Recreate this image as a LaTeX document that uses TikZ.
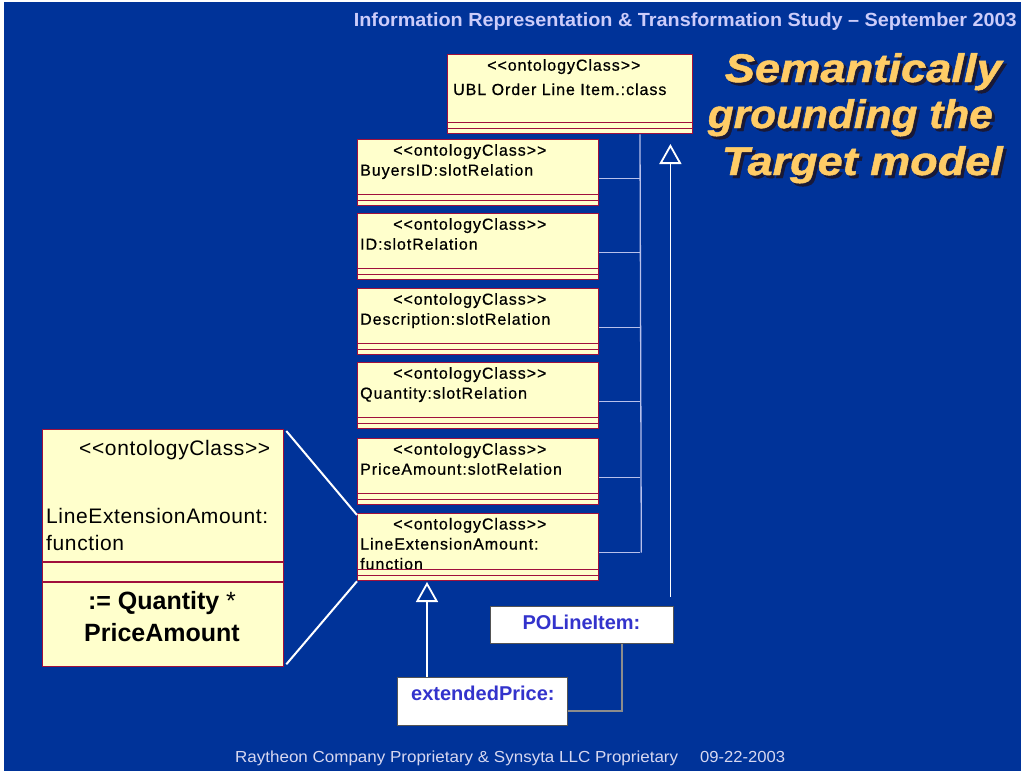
\documentclass[tikz,border=0pt]{standalone}
\usepackage{fontspec}
\setmainfont{Liberation Sans}
\newfontfamily\boxfont[LetterSpace=6,FakeBold=0.6]{Liberation Sans}
\newfontfamily\bigboxfont[LetterSpace=3]{Liberation Sans}
\newfontfamily\headfont[FakeStretch=1.1,FakeBold=1.2]{Liberation Sans}
\usetikzlibrary{calc,arrows.meta}

\definecolor{slidebg}{RGB}{0,51,153}
\definecolor{titlecol}{RGB}{204,204,250}
\definecolor{footcol}{RGB}{215,215,240}
\definecolor{headcol}{RGB}{255,204,102}
\definecolor{headshadow}{RGB}{25,25,55}
\definecolor{boxfill}{RGB}{255,255,204}
\definecolor{boxline}{RGB}{160,16,60}
\definecolor{linkcol}{RGB}{184,192,235}
\definecolor{instblue}{RGB}{51,51,204}
\definecolor{instline}{RGB}{140,140,140}

\newcommand\widthto[2]{\resizebox{#1}{\height}{#2}}

\begin{document}
\begin{tikzpicture}[x=1pt,y=-1pt,
  classbox/.style={draw=boxline, fill=boxfill, line width=1.3pt, anchor=north west,
    inner sep=0pt, minimum width=241pt, minimum height=66pt},
  compline/.style={draw=boxline, line width=1.1pt},
  boxtext/.style={anchor=base west, inner sep=0pt, text=black,
    font=\boxfont\fontsize{16}{19}\selectfont},
  bigtext/.style={anchor=base west, inner sep=0pt, text=black,
    font=\bigboxfont\fontsize{21}{25}\selectfont},
  boldtext/.style={anchor=base, inner sep=0pt, text=black,
    font=\bfseries\fontsize{25}{30}\selectfont},
  instbox/.style={draw=instline!60!black, fill=white, line width=1.4pt, anchor=north west, inner sep=0pt},
  insttext/.style={inner sep=0pt, text=instblue, font=\bfseries\fontsize{20}{24}\selectfont},
  linkline/.style={draw=linkcol, line width=1.3pt},
  zoomline/.style={draw=white, line width=2pt},
  genline/.style={draw=white, line width=1.8pt, -{Triangle[open, width=22pt, length=20pt]}},
  instlink/.style={draw=instline, line width=1.6pt},
  headtext/.style={anchor=base east, inner sep=0pt,
    font=\headfont\bfseries\itshape\fontsize{40}{47}\selectfont},
]
\useasboundingbox (0,0) rectangle (1021,771);

% slide background with its thin white edge
\fill[white] (0,0) rectangle (1021,771);
\fill[slidebg] (4,2) rectangle (1021,771);

% running title and footer
\node[anchor=base east, inner sep=0pt, text=titlecol] (runtitle) at (1017,26)
  {\widthto{663pt}{\bfseries\fontsize{19}{22}\selectfont Information Representation \& Transformation Study – September 2003}};
\node[anchor=base west, inner sep=0pt, text=footcol] (foot) at (235,762)
  {\widthto{443pt}{\fontsize{16}{19}\selectfont Raytheon Company Proprietary \& Synsyta LLC Proprietary}};
\node[anchor=base west, inner sep=0pt, text=footcol] (footdate) at (700,762)
  {\widthto{85pt}{\fontsize{16}{19}\selectfont 09-22-2003}};

% headline with drop shadow
\foreach \n/\x/\y/\w/\t in {1/1002/82/277pt/Semantically, 2/993/128/285pt/grounding the,
    3/1003/175/281pt/Target model}{
  \node[headtext, text=headshadow] (head\n s) at (\x+3,\y+3) {\widthto{\w}{\t}};
  \node[headtext, text=headcol] (head\n) at (\x,\y) {\widthto{\w}{\t}};
}

% ontology class for the order line item
\node[classbox, minimum width=245pt, minimum height=79pt] (item) at (447,54) {};
\draw[compline] ($(item.south west)+(0,-12)$) -- ($(item.south east)+(0,-12)$);
\draw[compline] ($(item.south west)+(0,-5.5)$) -- ($(item.south east)+(0,-5.5)$);
\node[boxtext] (itemst) at (487,70.7) {<<ontologyClass>>};
\node[boxtext] (itemnm) at (453,95) {UBL Order Line Item.:class};

% slot relations
\foreach \i/\t/\nm in {1/139/BuyersID:slotRelation, 2/213/ID:slotRelation,
    3/288/Description:slotRelation, 4/362/Quantity:slotRelation,
    5/438/PriceAmount:slotRelation}{
  \node[classbox] (slot\i) at (357,\t) {};
  \node[boxtext] (slot\i st) at (393,\t+16.7) {<<ontologyClass>>};
  \node[boxtext] (slot\i nm) at (360,\t+36.7) {\nm};
}
\node[classbox, minimum height=67pt] (slot6) at (357,513) {};
\node[boxtext] (slot6st) at (393,529.5) {<<ontologyClass>>};
\node[boxtext] (slot6nm) at (360,549.5) {LineExtensionAmount:};
\node[boxtext] (slot6fn) at (360,569.5) {function};
\foreach \i in {1,...,6}{
  \draw[compline] ($(slot\i.south west)+(0,-12)$) -- ($(slot\i.south east)+(0,-12)$);
  \draw[compline] ($(slot\i.south west)+(0,-6)$) -- ($(slot\i.south east)+(0,-6)$);
}

% slots attached to the class
\coordinate (busTop) at ($(item.south west)+(193,0)$);
\coordinate (busEnd) at ($(slot6.east)+(42,5.5)$);
\draw[linkline] (busTop) -- (busEnd);
\foreach \i in {1,...,6}{
  \coordinate (j\i) at ($(slot\i.east)+(0,5.5)$);
  \draw[linkline] (j\i) -- (j\i -| busTop);
}

% enlarged function class
\node[classbox, minimum height=237pt] (fn) at (42,429) {};
\draw[compline] (42,562) -- (283,562);
\draw[compline] (42,582) -- (283,582);
\node[bigtext] (fnst) at (79,455.7) {<<ontologyClass>>};
\node[bigtext] (fnnm) at (46,523.3) {LineExtensionAmount:};
\node[bigtext] (fnfn) at (46,550) {function};
\node[boldtext] (fnq) at (162,609) {:= Quantity {\mdseries*}};
\node[boldtext] (fnp) at (162,641.7) {PriceAmount};
\draw[zoomline] ($(fn.north east)+(2,2)$) -- ($(slot6.north west)+(0,2)$);
\draw[zoomline] ($(fn.south east)+(2,-3)$) -- (slot6.south west);

% instances
\node[instbox, minimum width=183pt, minimum height=37pt] (po) at (490,605.7) {};
\node[insttext, anchor=base] (potx) at (581.5,629) {POLineItem:};
\node[instbox, minimum width=170pt, minimum height=48pt] (ep) at (397,677) {};
\node[insttext, anchor=base west] (eptx) at (411,700.7) {extendedPrice:};

\coordinate (poUp) at ($(po.north east)+(-4,-9)$);
\draw[genline] (poUp) -- (poUp |- 0,144);
\coordinate (epUp) at ($(ep.north west)+(30,0)$);
\draw[genline] (epUp) -- (epUp |- 0,582);
\draw[instlink] ($(po.south west)+(132,0)$) |- ($(ep.east)+(0,9)$);
\end{tikzpicture}
\end{document}
